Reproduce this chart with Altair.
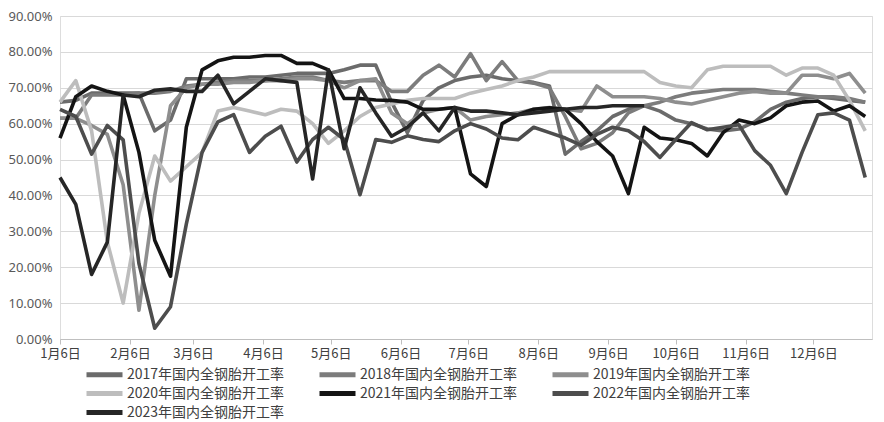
import altair as alt
import pandas as pd

series_names = [
    "2017年国内全钢胎开工率",
    "2018年国内全钢胎开工率",
    "2019年国内全钢胎开工率",
    "2020年国内全钢胎开工率",
    "2021年国内全钢胎开工率",
    "2022年国内全钢胎开工率",
    "2023年国内全钢胎开工率",
]
series_colors = ["#6b6b6b", "#7c7c7c", "#8e8e8e", "#bdbdbd", "#141414", "#4d4d4d", "#262626"]

# weekly values (%), one point per week starting 1月6日
v2017 = [66, 66.5, 68.5, 68.5, 68.5, 68.5, 58, 61, 72.5, 72.5, 72.5, 72.5, 73, 73, 73.5, 74, 74, 74, 75, 76.3,
         76.3, 66, 57.5, 66.5, 70, 72, 73, 73.5, 72.5, 72, 71.5, 70.5, 51.5, 55, 58, 62, 64, 65, 63.5, 61,
         60, 58.5, 58, 58.5, 60.5, 64, 66, 67, 67.5, 67, 66.5, 66]
v2018 = [61.5, 61.5, 68, 68, 68, 68.5, 68.5, 69, 70.5, 71, 71.5, 72, 72, 72, 72.5, 73, 73, 72, 71.5, 72,
         72, 69, 69, 73.5, 76.3, 73, 79.5, 72, 77.3, 72, 71.3, 70, 62, 53, 54.5, 57.5, 63, 65, 66, 67.5,
         68.5, 69, 69.5, 69.5, 69.5, 69, 68.5, 68, 67.5, 67.5, 67, 66]
v2019 = [61.5, 61.5, 59.5, 57, 43, 8, 40, 65, 70, 71, 71, 71.5, 71.5, 72, 72, 72.5, 72.5, 72, 70, 72,
         72.5, 63, 60, 63, 64, 64.5, 61, 62, 62.5, 63, 64, 64.5, 64, 63.5, 70.5, 67.5, 67.5, 67.5, 67, 66,
         65.5, 66.5, 67.5, 68.5, 69, 68.5, 68.5, 73.5, 73.5, 72.5, 74, 68.5]
v2020 = [66, 72, 58, 27, 10, 35, 51, 44, 48, 52, 63.5, 64.5, 63.5, 62.5, 64, 63.5, 60, 54.5, 58, 62,
         64.5, 65.5, 66.5, 67, 67, 67, 68.5, 69.5, 70.5, 72, 73, 74.5, 74.5, 74.5, 74.5, 74.5, 74.5, 74.5, 71.5, 70.5,
         70, 75, 76, 76, 76, 76, 73.5, 75.5, 75.5, 73.5, 66.5, 58]
v2021 = [56, 67.5, 70.5, 69, 68, 52, 27.5, 17.5, 59, 75, 77.5, 78.5, 78.5, 79, 79, 76.8, 76.8, 75, 67, 67,
         66.6, 66.5, 66, 64, 64, 64.5, 46, 42.5, 60, 62.5, 64, 64.4, 64, 60, 55, 51, 40.5, 59, 56, 55.5,
         54.5, 51, 57.5, 61, 60, 61.6, 65, 66, 66.3, 63.5, 65, 62]
v2022 = [64, 62, 51.5, 59.5, 55.5, 21, 3, 9, 32, 52, 60.5, 62.5, 52, 56.5, 59.3, 49.3, 55.6, 59, 55.6, 40.2,
         55.6, 54.8, 56.6, 55.6, 55, 58, 60, 58.5, 56, 55.5, 59, 57.5, 56, 54, 57, 59, 58, 55, 50.6, 55.6,
         60.3, 58.3, 59, 59.7, 52.5, 48.4, 40.5, 52, 62.5, 63, 61, 45]
v2023 = [45, 37.5, 18, 27, 68, 67.5, 69.3, 69.7, 69, 69, 73.5, 65.5, 69, 72.5, 72, 71.5, 44.6, 75, 53, 70,
         63, 56.5, 59, 63, 58, 64.5, 63.5, 63.5, 63, 62.5, 63, 63.5, 64, 64.5, 64.5, 65, 65, 65]

all_values = [v2017, v2018, v2019, v2020, v2021, v2022, v2023]

# x axis: days since 1月6日, ticks on the 6th of each month
tick_days = [0, 31, 59, 90, 120, 151, 181, 212, 243, 273, 304, 334]
tick_labels = ["1月6日", "2月6日", "3月6日", "4月6日", "5月6日", "6月6日",
               "7月6日", "8月6日", "9月6日", "10月6日", "11月6日", "12月6日"]
y_ticks = [0, 0.1, 0.2, 0.3, 0.4, 0.5, 0.6, 0.7, 0.8, 0.9]

rows = []
for name, vals in zip(series_names, all_values):
    for i, v in enumerate(vals):
        rows.append({"day": 7 * i, "rate": v / 100.0, "series": name})
df = pd.DataFrame(rows)

label_expr = ("[" + ",".join("'" + s + "'" for s in tick_labels) + "][indexof(["
              + ",".join(str(d) for d in tick_days) + "], datum.value)]")

chart = alt.Chart(df).mark_line(strokeWidth=3.6, strokeJoin="round").encode(
    x=alt.X("day:Q",
            scale=alt.Scale(domain=[0, 360], nice=False, zero=False),
            axis=alt.Axis(values=tick_days, labelExpr=label_expr, title=None, grid=False,
                          domainColor="#bfbfbf", tickColor="#bfbfbf", tickSize=5,
                          labelFontSize=13, labelColor="#404040", labelFont="Noto Sans CJK SC",
                          labelPadding=3, labelFlush=False)),
    y=alt.Y("rate:Q",
            scale=alt.Scale(domain=[0, 0.9], nice=False),
            axis=alt.Axis(values=y_ticks, format=".2%", title=None, domain=False, ticks=False,
                          gridColor="#d9d9d9", gridWidth=1.2, labelFontSize=13, labelColor="#595959",
                          labelFont="Noto Sans", labelPadding=8)),
    color=alt.Color("series:N",
                    scale=alt.Scale(domain=series_names, range=series_colors),
                    legend=alt.Legend(title=None, orient="none", legendX=36, legendY=350,
                                      columns=3, direction="horizontal",
                                      symbolType="M-3,0H3", symbolSize=144, symbolStrokeWidth=5,
                                      labelFontSize=14, labelFont="Noto Sans CJK SC",
                                      labelColor="#404040", labelOffset=14,
                                      columnPadding=24, rowPadding=-5.5, labelLimit=300)),
).properties(
    width=812,
    height=323,
    autosize="none",
    padding={"left": 52, "top": 8, "right": 4, "bottom": 80},
).configure_view(stroke=None).configure(background="white")

chart.save("out.html", embed_options={"renderer": "svg", "actions": False})
